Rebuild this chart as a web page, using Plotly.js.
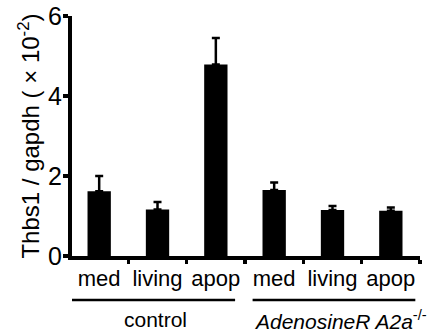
<!DOCTYPE html>
<html>
<head>
<meta charset="utf-8">
<script src="https://cdn.plot.ly/plotly-3.0.1.min.js"></script>
<style>
html,body{margin:0;padding:0;background:#fff;}
#chart{width:435px;height:333px;}
</style>
</head>
<body>
<div id="chart"></div>
<script>
// Data
var positions = [0, 1, 2, 3, 4, 5];
var conditionLabels = ["med", "living", "apop", "med", "living", "apop"];
var values = [1.62, 1.16, 4.79, 1.65, 1.15, 1.13];
var errorsUp = [0.38, 0.19, 0.66, 0.19, 0.10, 0.08];
var boundaries = [-0.5, 0.5, 1.5, 2.5, 3.5, 4.5, 5.5];
var groupNames = ["control", "<i>AdenosineR A2a</i><sup>-/-</sup>"];
var groupCenters = [0.96, 4.14];
var groupStarts = [-0.466, 2.63];
var groupEnds = [2.33, 5.42];
var yTicks = [0, 2, 4, 6];

var FONT = "Liberation Sans, Arial, Helvetica, sans-serif";
var XRANGE = [-0.466, 5.5];

var trace = {
  type: "bar",
  x: positions,
  y: values,
  xaxis: "x2",
  width: 0.4,
  marker: {color: "#000000", line: {width: 0}},
  error_y: {
    type: "data",
    symmetric: false,
    array: errorsUp,
    arrayminus: values.map(function(){return 0;}),
    color: "#000000",
    thickness: 2.5,
    width: 4
  },
  hoverinfo: "none"
};

// empty trace to keep the boundary-tick axis alive
var tickHolder = {type: "scatter", x: [], y: [], xaxis: "x", yaxis: "y", hoverinfo: "none", showlegend: false};

var shapes = groupNames.map(function(g, i){
  return {
    type: "line", xref: "x", yref: "paper",
    x0: groupStarts[i], x1: groupEnds[i], y0: -0.183, y1: -0.183,
    line: {color: "#000000", width: 2.5}
  };
});

var annotations = groupNames.map(function(g, i){
  return {
    text: g, xref: "x", yref: "paper",
    x: groupCenters[i], y: -0.265,
    xanchor: "center", yanchor: "middle",
    showarrow: false,
    font: {family: FONT, size: 21, color: "#000000"}
  };
});

var layout = {
  width: 435, height: 333,
  margin: {l: 72, r: 15, t: 16, b: 77, pad: 0},
  paper_bgcolor: "#ffffff",
  plot_bgcolor: "#ffffff",
  showlegend: false,
  font: {family: FONT, color: "#000000"},
  xaxis: {
    range: XRANGE,
    tickmode: "array",
    tickvals: boundaries,
    showticklabels: false,
    ticks: "outside",
    ticklen: 4,
    tickwidth: 3.5,
    tickcolor: "#000000",
    showline: true, linecolor: "#000000", linewidth: 4,
    showgrid: false, zeroline: false,
    fixedrange: true
  },
  xaxis2: {
    overlaying: "x",
    anchor: "y",
    side: "bottom",
    range: XRANGE,
    tickmode: "array",
    tickvals: positions,
    ticktext: conditionLabels,
    ticks: "",
    ticklabelstandoff: 7,
    tickfont: {family: FONT, size: 22, color: "#000000"},
    showline: false,
    showgrid: false, zeroline: false,
    fixedrange: true
  },
  yaxis: {
    range: [0, 6],
    tickmode: "array",
    tickvals: yTicks,
    ticktext: yTicks.map(String),
    ticks: "outside",
    ticklen: 5,
    tickwidth: 3.5,
    tickcolor: "#000000",
    ticklabelstandoff: -4,
    tickfont: {family: FONT, size: 25, color: "#000000"},
    showline: true, linecolor: "#000000", linewidth: 4,
    showgrid: false, zeroline: false,
    title: {
      text: "Thbs1 / gapdh ( × 10<sup>-2</sup>)\u00a0\u00a0",
      font: {family: FONT, size: 24, color: "#000000"},
      standoff: 3
    },
    fixedrange: true
  },
  shapes: shapes,
  annotations: annotations
};

Plotly.newPlot("chart", [trace, tickHolder], layout, {staticPlot: true, displayModeBar: false});
</script>
</body>
</html>
